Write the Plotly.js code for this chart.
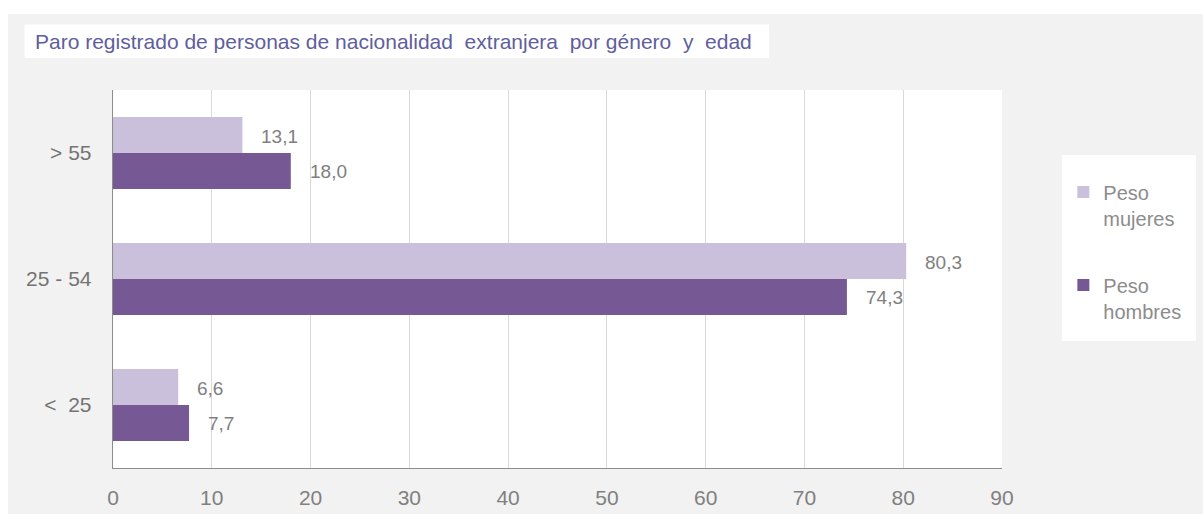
<!DOCTYPE html>
<html>
<head>
<meta charset="utf-8">
<script src="https://cdn.plot.ly/plotly-3.0.1.min.js"></script>
<style>
  html, body { margin: 0; padding: 0; background: #ffffff; }
  #chart { position: absolute; left: 8px; top: 14px; width: 1195px; height: 500px; }
</style>
</head>
<body>
<div id="chart"></div>
<script>
// ---- data ----
const categories = ['<\u00a0 25', '25 - 54', '> 55'];
const pesoMujeres = [6.6, 80.3, 13.1];
const pesoHombres = [7.7, 74.3, 18.0];
const seriesNames = ['Peso<br>mujeres', 'Peso<br>hombres'];
const xTicks = [0, 10, 20, 30, 40, 50, 60, 70, 80, 90];
const chartTitle = 'Paro registrado de personas de nacionalidad\u00a0 extranjera\u00a0 por género\u00a0 y\u00a0 edad';

const colMujeres = '#CAC0DB';
const colHombres = '#765894';
const fontFam = '"Liberation Sans", Arial, sans-serif';

function fmt(v) { return v.toFixed(1).replace('.', ','); }

const traces = [
  {
    type: 'bar', orientation: 'h', name: seriesNames[1],
    y: categories, x: pesoHombres, marker: { color: colHombres },
    legendgroup: 'h', legendrank: 2, hoverinfo: 'x'
  },
  {
    type: 'bar', orientation: 'h', name: seriesNames[0],
    y: categories, x: pesoMujeres, marker: { color: colMujeres },
    legendgroup: 'm', legendrank: 1, hoverinfo: 'x'
  }
];

const annotations = [];
categories.forEach((c, i) => {
  annotations.push({
    xref: 'x', yref: 'y', x: pesoMujeres[i], y: c, yshift: 17, xshift: 17,
    text: fmt(pesoMujeres[i]), showarrow: false, xanchor: 'left', yanchor: 'middle',
    font: { family: fontFam, size: 19, color: '#808080' }
  });
  annotations.push({
    xref: 'x', yref: 'y', x: pesoHombres[i], y: c, yshift: -18, xshift: 17,
    text: fmt(pesoHombres[i]), showarrow: false, xanchor: 'left', yanchor: 'middle',
    font: { family: fontFam, size: 19, color: '#808080' }
  });
});

const layout = {
  width: 1195, height: 500,
  margin: { l: 105, r: 201, t: 76, b: 46, pad: 0 },
  paper_bgcolor: '#F2F2F2',
  plot_bgcolor: '#FFFFFF',
  barmode: 'group',
  bargap: 0.43,
  bargroupgap: 0,
  font: { family: fontFam, size: 20, color: '#808080' },
  title: {
    text: chartTitle,
    xref: 'container', yref: 'container',
    x: 27 / 1195, xanchor: 'left',
    y: 1 - 28 / 500, yanchor: 'middle',
    font: { family: fontFam, size: 21, color: '#5F5E9E' }
  },
  xaxis: {
    range: [0, 90], tickvals: xTicks, ticktext: xTicks.map(String),
    showgrid: true, gridcolor: '#D9D9D9', gridwidth: 1,
    showline: true, linecolor: '#8C8C8C', linewidth: 1.3,
    zeroline: false, ticks: '', ticklabelstandoff: 10,
    tickfont: { family: fontFam, size: 21, color: '#808080' },
    fixedrange: true
  },
  yaxis: {
    type: 'category', categoryorder: 'array', categoryarray: categories,
    showgrid: false, showline: true, linecolor: '#8C8C8C', linewidth: 1.3,
    zeroline: false, ticks: '', ticklabelstandoff: 16,
    tickfont: { family: fontFam, size: 21, color: '#747474' },
    fixedrange: true
  },
  showlegend: true,
  legend: {
    x: 1.069, xanchor: 'left', y: 0.782, yanchor: 'top',
    bgcolor: 'rgba(0,0,0,0)', borderwidth: 0,
    valign: 'top', tracegroupgap: 38,
    font: { family: fontFam, size: 20, color: '#8C8C8C' }
  },
  annotations: annotations,
  shapes: [
    { type: 'rect', xref: 'paper', yref: 'paper', layer: 'below',
      x0: -0.0995, x1: 0.738, y0: 1.0847, y1: 1.1733,
      fillcolor: '#FFFFFF', line: { width: 0 } },
    { type: 'rect', xref: 'paper', yref: 'paper', layer: 'below',
      x0: 1.0675, x1: 1.2182, y0: 0.336, y1: 0.828,
      fillcolor: '#FFFFFF', line: { width: 0 } }
  ]
};

Plotly.newPlot('chart', traces, layout, { displayModeBar: false, staticPlot: true });
</script>
</body>
</html>
